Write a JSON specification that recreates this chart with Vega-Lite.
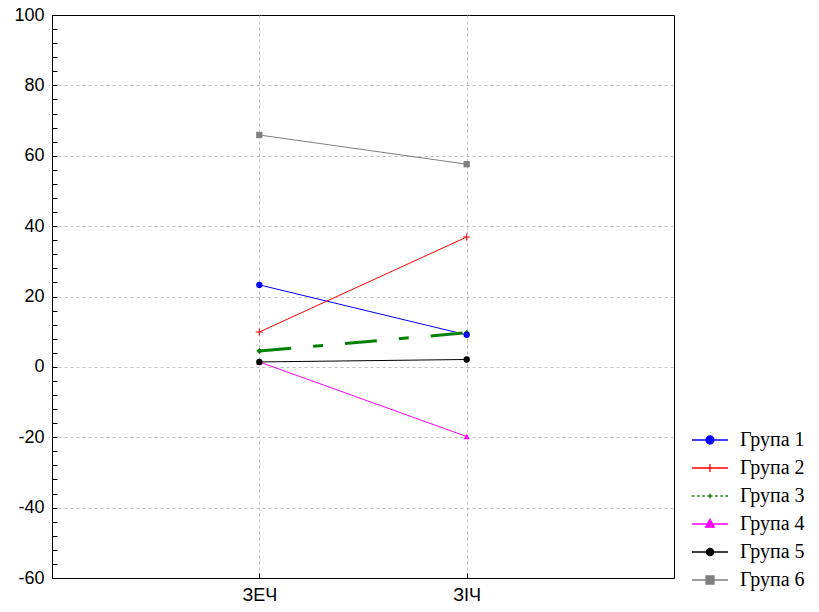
{
  "$schema": "https://vega.github.io/schema/vega-lite/v6.json",
  "width": 622,
  "height": 563,
  "autosize": {"type": "none"},
  "padding": {"left": 52, "top": 15, "right": 145, "bottom": 34},
  "background": "white",
  "config": {
    "view": {"stroke": "#000000", "strokeWidth": 1},
    "axis": {"labelColor": "#000000", "labelFont": "Liberation Sans", "labelFontSize": 18, "domainColor": "#000000", "tickColor": "#000000", "title": null}
  },
  "data": {
    "values": [
      {"group": "Група 1", "phase": "ЗЕЧ", "value": 23.3},
      {"group": "Група 1", "phase": "ЗІЧ", "value": 9.1},
      {"group": "Група 2", "phase": "ЗЕЧ", "value": 9.9},
      {"group": "Група 2", "phase": "ЗІЧ", "value": 36.9},
      {"group": "Група 3", "phase": "ЗЕЧ", "value": 4.5},
      {"group": "Група 3", "phase": "ЗІЧ", "value": 9.7},
      {"group": "Група 4", "phase": "ЗЕЧ", "value": 1.4},
      {"group": "Група 4", "phase": "ЗІЧ", "value": -19.8},
      {"group": "Група 5", "phase": "ЗЕЧ", "value": 1.4},
      {"group": "Група 5", "phase": "ЗІЧ", "value": 2.1},
      {"group": "Група 6", "phase": "ЗЕЧ", "value": 65.9},
      {"group": "Група 6", "phase": "ЗІЧ", "value": 57.6}
    ]
  },
  "encoding": {
    "x": {
      "field": "phase", "type": "nominal", "sort": ["ЗЕЧ", "ЗІЧ"],
      "scale": {"type": "point", "padding": 1},
      "axis": {"labelAngle": 0, "tickSize": -5, "labelPadding": 13, "grid": true, "gridDash": [3, 3], "gridColor": "#c0c0c0"}
    },
    "y": {
      "field": "value", "type": "quantitative",
      "scale": {"domain": [-60, 100], "nice": false, "zero": false},
      "axis": {
        "values": [-60,-56,-52,-48,-44,-40,-36,-32,-28,-24,-20,-16,-12,-8,-4,0,4,8,12,16,20,24,28,32,36,40,44,48,52,56,60,64,68,72,76,80,84,88,92,96,100],
        "labelExpr": "datum.value % 20 === 0 ? '' + datum.value : ''",
        "labelFlush": false,
        "tickSize": -5,
        "labelPadding": 13,
        "grid": true,
        "gridDash": [3, 3],
        "gridColor": "#c0c0c0",
        "gridOpacity": {"condition": {"test": "datum.value % 20 === 0 && datum.value > -60 && datum.value < 100", "value": 1}, "value": 0}
      }
    },
    "color": {
      "field": "group", "type": "nominal",
      "scale": {"domain": ["Група 1", "Група 2", "Група 3", "Група 4", "Група 5", "Група 6"], "range": ["#0000ff", "#ff0000", "#008000", "#ff00ff", "#000000", "#808080"]},
      "legend": {
        "orient": "none", "legendX": 648, "legendY": 415, "title": null,
        "symbolSize": 64, "labelOffset": 20, "labelFont": "Liberation Serif", "labelFontSize": 20, "labelColor": "#000000",
        "rowPadding": 8, "padding": 0,
        "encode": {
          "symbols": {
            "update": {
              "shape": {"signal": "['M-4.5,0H4.5M-1,0A1,1 0 1,0 1,0A1,1 0 1,0 -1,0Z', 'M-4.5,0H4.5M0,-1V1', 'M-4.5,0H-3.9M-3.2,0H-2.6M-1.9,0H-1.3M1.3,0H1.9M2.6,0H3.2M3.9,0H4.5M-0.6,0H0.6M0,-0.6V0.6', 'M-4.5,0H4.5M0,-1.2L1.1,0.8L-1.1,0.8Z', 'M-4.5,0H4.5M-0.9,0A0.9,0.9 0 1,0 0.9,0A0.9,0.9 0 1,0 -0.9,0Z', 'M-4.5,0H4.5M-1,-1H1V1H-1Z'][datum.index]"},
              "strokeWidth": {"value": 1.3},
              "opacity": {"value": 1}
            }
          }
        }
      }
    }
  },
  "layer": [
    {
      "transform": [{"filter": "datum.group !== 'Група 3'"}],
      "mark": {"type": "line", "strokeWidth": 1},
      "encoding": {"detail": {"field": "group"}}
    },
    {
      "transform": [{"filter": "datum.group === 'Група 3'"}],
      "mark": {"type": "line", "strokeWidth": 3, "strokeDash": [32, 22, 10, 22]},
      "encoding": {}
    },
    {
      "transform": [{"filter": "datum.group === 'Група 2'"}],
      "mark": {"type": "point", "shape": "M-1,0H1M0,-1V1", "filled": false, "size": 50, "strokeWidth": 1, "opacity": 1},
      "encoding": {}
    },
    {
      "transform": [{"filter": "datum.group === 'Група 3'"}],
      "mark": {"type": "point", "shape": "diamond", "filled": true, "size": 35, "opacity": 1},
      "encoding": {}
    },
    {
      "transform": [{"filter": "datum.group === 'Група 4'"}],
      "mark": {"type": "point", "shape": "triangle-up", "filled": true, "size": 40, "opacity": 1},
      "encoding": {}
    },
    {
      "transform": [{"filter": "datum.group === 'Група 1' || datum.group === 'Група 5'"}],
      "mark": {"type": "point", "shape": "circle", "filled": true, "size": 40, "opacity": 1},
      "encoding": {}
    },
    {
      "transform": [{"filter": "datum.group === 'Група 6'"}],
      "mark": {"type": "point", "shape": "square", "filled": true, "size": 40, "opacity": 1},
      "encoding": {}
    }
  ]
}
